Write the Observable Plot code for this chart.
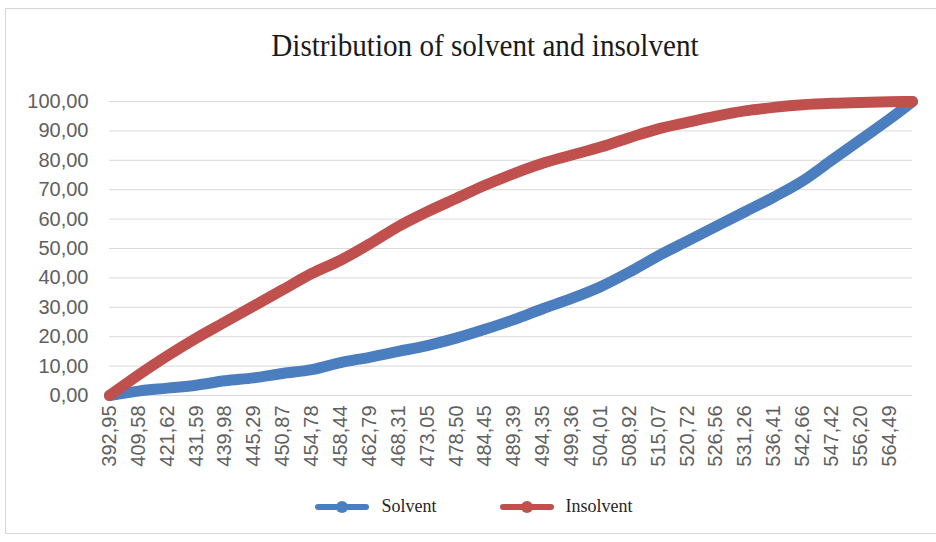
<!DOCTYPE html>
<html>
<head>
<meta charset="utf-8">
<script src="https://cdn.jsdelivr.net/npm/d3@7"></script>
<script src="https://cdn.jsdelivr.net/npm/@observablehq/plot@0.6"></script>
<style>
  html, body { margin: 0; padding: 0; background: #fff; }
  #chart { position: relative; width: 936px; height: 542px; overflow: hidden; }
  #frame { position: absolute; left: 5px; top: 8px; width: 960px; height: 526px;
           border: 1px solid #d6d6d6; box-sizing: border-box; }
  #title { position: absolute; left: 16px; top: 28px; width: 936px; text-align: center;
           font-family: "Liberation Serif", "Times New Roman", serif; font-size: 31px; color: #1a1a1a;
           transform: scaleX(0.94); transform-origin: 484px 0; }
  #plot { position: absolute; left: 0; top: 80px; }
  #legend { position: absolute; left: 0; top: 496px; width: 936px; display: flex;
            justify-content: center; padding-left: 11px; box-sizing: border-box;
            font-family: "Liberation Serif", "Times New Roman", serif; font-size: 18px; color: #262626; }
  .item { display: flex; align-items: center; margin: 0 31px; }
  .item svg { margin-right: 11px; }
</style>
</head>
<body>
<div id="chart">
  <div id="frame"></div>
  <div id="title">Distribution of solvent and insolvent</div>
  <div id="plot"></div>
  <div id="legend"></div>
</div>
<script>
// Category labels shown on the x axis (every 5th category is labelled)
const xLabels = ["392,95","409,58","421,62","431,59","439,98","445,29","450,87","454,78",
  "458,44","462,79","468,31","473,05","478,50","484,45","489,39","494,35","499,36",
  "504,01","508,92","515,07","520,72","526,56","531,26","536,41","542,66","547,42",
  "556,20","564,49"];
const labelStep = 5;     // categories between two labels
const lastIndex = 139;   // index of the final category

// Cumulative shares (%) at each labelled category, plus the final category
const solvent = [0, 1.5, 2.5, 3.5, 5, 6, 7.5, 8.8, 11.2, 13, 15, 17, 19.5, 22.5, 25.8,
  29.5, 33, 37, 42, 47.5, 52.5, 57.5, 62.5, 67.5, 73, 80, 87, 94, 100];
const insolvent = [0, 7, 13.5, 19.5, 25, 30.5, 36, 41.5, 46, 51.5, 57.5, 62.5, 67, 71.5, 75.5,
  79, 81.8, 84.5, 87.7, 90.7, 92.9, 95, 96.8, 98, 98.9, 99.4, 99.7, 99.9, 100];

const series = [
  { name: "Solvent", color: "#4a7ebf", values: solvent },
  { name: "Insolvent", color: "#c0504d", values: insolvent }
];

const catIndex = i => (i < xLabels.length ? i * labelStep : lastIndex);
const rows = series.flatMap(s => s.values.map((v, i) => ({ series: s.name, x: catIndex(i), y: v })));

const fmt = d => d.toFixed(2).replace(".", ",");
const tickIdx = xLabels.map((_, i) => i * labelStep);

const chart = Plot.plot({
  width: 936,
  height: 400,
  marginTop: 21,
  marginBottom: 85,
  marginLeft: 109,
  marginRight: 24,
  style: { fontFamily: "'Liberation Sans', Arial, sans-serif", fontSize: "20px", color: "#606060", background: "transparent" },
  x: { domain: [0, lastIndex], ticks: tickIdx, tickFormat: d => xLabels[d / labelStep],
       tickSize: 0, tickPadding: 10, tickRotate: -90, label: null },
  y: { domain: [0, 100], ticks: d3.range(0, 101, 10), tickFormat: fmt, tickSize: 0, tickPadding: 21, label: null },
  color: { domain: series.map(s => s.name), range: series.map(s => s.color) },
  marks: [
    Plot.ruleY(d3.range(0, 101, 10), { stroke: "#d9d9d9", strokeWidth: 1 }),
    Plot.line(rows, { x: "x", y: "y", z: "series", stroke: "series", strokeWidth: 11,
                      strokeLinecap: "round", strokeLinejoin: "round", curve: "monotone-x" })
  ]
});
document.getElementById("plot").appendChild(chart);

// Legend below the plot
const legend = d3.select("#legend");
series.forEach(s => {
  const item = legend.append("div").attr("class", "item");
  const sw = item.append("svg").attr("width", 56).attr("height", 16);
  sw.append("line").attr("x1", 4).attr("x2", 52).attr("y1", 8).attr("y2", 8)
    .attr("stroke", s.color).attr("stroke-width", 6).attr("stroke-linecap", "round");
  sw.append("circle").attr("cx", 28).attr("cy", 8).attr("r", 6).attr("fill", s.color);
  item.append("span").text(s.name);
});
</script>
</body>
</html>
